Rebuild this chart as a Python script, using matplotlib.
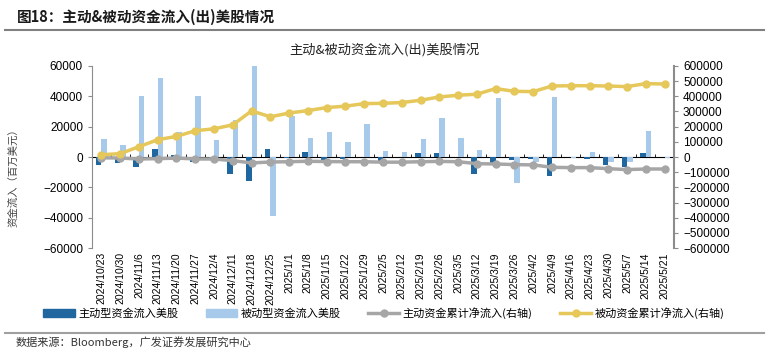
import numpy as np
import matplotlib
matplotlib.use("Agg")
import matplotlib.pyplot as plt
from matplotlib.lines import Line2D

plt.rcParams["font.family"] = ["Noto Sans CJK SC", "DejaVu Sans"]

DATES = ["2024/10/23", "2024/10/30", "2024/11/6", "2024/11/13", "2024/11/20",
         "2024/11/27", "2024/12/4", "2024/12/11", "2024/12/18", "2024/12/25",
         "2025/1/1", "2025/1/8", "2025/1/15", "2025/1/22", "2025/1/29",
         "2025/2/5", "2025/2/12", "2025/2/19", "2025/2/26", "2025/3/5",
         "2025/3/12", "2025/3/19", "2025/3/26", "2025/4/2", "2025/4/9",
         "2025/4/16", "2025/4/23", "2025/4/30", "2025/5/7", "2025/5/14",
         "2025/5/21"]

# weekly flows, USD mn (left axis)
ACTIVE  = [-5000, -4000, -6800, 5500, 1500, -3000, -1000, -11000, -15500, 5200,
           -500, 3000, -2000, -1000, -300, -2500, -300, 2800, 2500, -300,
           -11000, -4000, -1700, -1200, -12300, -300, -1500, -5300, -6400, 2400,
           -300]
PASSIVE = [12000, 8000, 40500, 52000, 16400, 40500, 11000, 24500, 60000, -39000,
           27000, 12500, 16500, 9600, 22000, 3700, 3000, 11800, 25600, 12700,
           4800, 38600, -17000, -3000, 39300, -500, 3300, -3000, -3000, 17100,
           -600]

# cumulative net flows, USD mn (right axis)
ACTIVE_CUM  = [-5000, -7000, -13000, -11000, -7000, -13000, -13000, -24000, -39000, -33000,
               -31000, -28000, -30000, -31000, -31000, -34000, -34000, -31000, -29000, -31000,
               -44000, -46000, -50000, -52000, -68000, -70000, -70000, -77000, -83000, -79000,
               -79000]
PASSIVE_CUM = [15000, 22000, 68000, 114000, 136000, 173000, 186000, 212000, 304000, 265000,
               290000, 306000, 326000, 335000, 352000, 354000, 359000, 374000, 396000, 407000,
               414000, 451000, 433000, 431000, 468000, 470000, 470000, 468000, 464000, 484000,
               481000]

C_ACTIVE = "#20679f"
C_PASSIVE = "#a7c9ea"
C_ACUM = "#a6a6a6"
C_PCUM = "#e5c75a"
AXIS_GRAY = "#8c8c8c"

fig = plt.figure(figsize=(7.68, 3.51), dpi=100)
ax = fig.add_axes([0.1198, 0.2934, 0.7578, 0.5186])

x = np.arange(len(DATES))
w = 0.29
ax.bar(x - w / 2, ACTIVE, width=w, color=C_ACTIVE, zorder=2)
ax.bar(x + w / 2, PASSIVE, width=w, color=C_PASSIVE, zorder=2)

ax.set_xlim(-0.5, len(DATES) - 0.5)
ax.set_ylim(-60000, 60000)
ax.set_yticks(np.arange(-60000, 60001, 20000))
ax.set_xticks(x)
ax.set_xticklabels(DATES, rotation=90, fontsize=7.5, family="Liberation Sans")
ax.tick_params(axis="x", length=0, pad=3)
ax.tick_params(axis="y", labelsize=8.5, color=AXIS_GRAY, length=3)
for lab in ax.get_yticklabels():
    lab.set_family("Liberation Sans")
for s in ("top", "bottom", "right"):
    ax.spines[s].set_visible(False)
ax.spines["left"].set_color(AXIS_GRAY)

# zero line with small category ticks
zero = ax.secondary_xaxis(0.5)
zero.set_xticks(np.arange(-0.5, len(DATES), 1.0))
zero.set_xticklabels([])
zero.tick_params(axis="x", direction="out", length=2.5, color="black", width=0.6)
zero.spines["bottom"].set_color("black")
zero.spines["bottom"].set_linewidth(0.9)

ax2 = ax.twinx()
ax2.plot(x, ACTIVE_CUM, color=C_ACUM, lw=2.5, marker="o", ms=5, zorder=3)
ax2.plot(x, PASSIVE_CUM, color=C_PCUM, lw=2.5, marker="o", ms=5, zorder=3)
ax2.set_ylim(-600000, 600000)
ax2.set_yticks(np.arange(-600000, 600001, 100000))
ax2.tick_params(axis="y", labelsize=8.5, color=AXIS_GRAY, length=3)
for lab in ax2.get_yticklabels():
    lab.set_family("Liberation Sans")
for s in ("top", "bottom", "left"):
    ax2.spines[s].set_visible(False)
ax2.spines["right"].set_color(AXIS_GRAY)
ax2.spines["right"].set_linewidth(1.5)

fig.text(0.017, 0.5, "资金流入（百万美元）", rotation=90, fontsize=7.5,
         color="#444444", ha="center", va="center")
fig.text(0.5, 0.857, "主动&被动资金流入(出)美股情况", fontsize=9.5,
         ha="center", va="center", color="#222222")
fig.text(0.022, 0.952, "图18：主动&被动资金流入(出)美股情况", fontsize=10.5,
         fontweight="bold", ha="left", va="center", color="#1a1a1a")
fig.text(0.02, 0.025, "数据来源：Bloomberg，广发证券发展研究中心", fontsize=8,
         ha="left", va="center", color="#333333")

fig.add_artist(Line2D([0.007, 0.995], [0.915, 0.915], color="#808080", lw=1.5))
fig.add_artist(Line2D([0.007, 0.995], [0.051, 0.051], color="#a0a0a0", lw=1.5))

handles = [
    plt.Rectangle((0, 0), 1, 1, color=C_ACTIVE),
    plt.Rectangle((0, 0), 1, 1, color=C_PASSIVE),
    Line2D([], [], color=C_ACUM, lw=2.5, marker="o", ms=5),
    Line2D([], [], color=C_PCUM, lw=2.5, marker="o", ms=5),
]
labels = ["主动型资金流入美股", "被动型资金流入美股",
          "主动资金累计净流入(右轴)", "被动资金累计净流入(右轴)"]
fig.legend(handles, labels, loc="center", bbox_to_anchor=(0.5, 0.108), ncol=4,
           frameon=False, fontsize=8, handlelength=2.8, columnspacing=2.5,
           handletextpad=0.3)

fig.savefig("out.png", dpi=100)
